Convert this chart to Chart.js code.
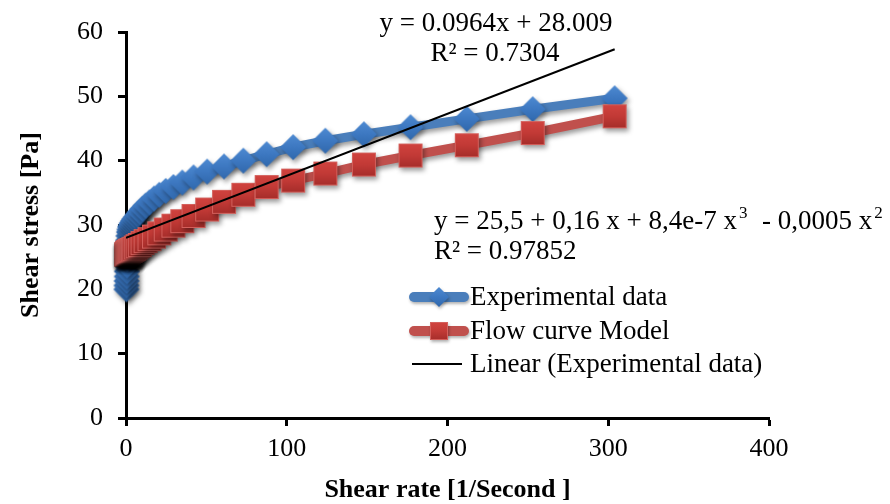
<!DOCTYPE html>
<html>
<head>
<meta charset="utf-8">
<title>Shear stress vs shear rate</title>
<script src="https://cdn.jsdelivr.net/npm/chart.js@4.4.1/dist/chart.umd.min.js"></script>
<style>
  html, body { margin: 0; padding: 0; background: #fff; }
  #wrap { position: relative; width: 890px; height: 504px; }
</style>
</head>
<body>
<div id="wrap"><canvas id="flowChart" width="890" height="504"></canvas></div>
<script>
// shear rate steps [1/s] shared by both series
var shearRate = [0.26, 0.31, 0.37, 0.44, 0.53, 0.63, 0.75, 0.89, 1.06, 1.26,
	1.5, 1.8, 2.1, 2.5, 3.0, 3.6, 4.3, 5.1, 6.1, 7.2,
	8.6, 10.3, 12.2, 14.6, 17.4, 20.7, 24.7, 29.5, 35, 42,
	50.5, 61, 73, 87.5, 104, 124, 148, 177, 212, 253, 304];

// measured shear stress [Pa]
var expStress = [20.0, 20.6, 21.3, 22.0, 22.8, 23.7, 24.7, 25.7, 26.7, 27.6,
	28.3, 28.9, 29.3, 29.7, 30.0, 30.3, 30.6, 30.9, 31.2, 31.6,
	32.0, 32.5, 33.0, 33.5, 34.1, 34.7, 35.3, 35.9, 36.6, 37.4,
	38.3, 39.1, 40.0, 41.0, 42.1, 43.1, 44.1, 45.2, 46.5, 48.0, 49.7];

// flow curve model [Pa]
var modelStress = [25.4, 25.4, 25.45, 25.5, 25.5, 25.55, 25.6, 25.65, 25.7, 25.75,
	25.8, 25.85, 25.9, 26.0, 26.0, 26.1, 26.2, 26.3, 26.5, 26.7,
	26.9, 27.2, 27.5, 27.8, 28.2, 28.7, 29.3, 29.9, 30.6, 31.4,
	32.4, 33.6, 34.7, 35.9, 36.9, 38.0, 39.4, 40.8, 42.4, 44.3, 46.9];

var xTicks = [0, 100, 200, 300, 400];
var yTicks = [0, 10, 20, 30, 40, 50, 60];

// excel linear trendline of the experimental data, over the data range
var trendSlope = 0.0964;
var trendIntercept = 28.009;
var trendRange = [0, 304];
var trendR2 = '0.7304';
var modelR2 = '0.97852';

var seriesNames = ['Experimental data', 'Flow curve Model', 'Linear (Experimental data)'];

var serif = '"Liberation Serif", "Times New Roman", serif';

function toPoints(xs, ys) {
	var pts = [];
	for (var i = 0; i < xs.length; i++) {
		pts.push({x: xs[i], y: ys[i]});
	}
	return pts;
}

// marker bitmaps, gradient filled like the office 2007 style
function makeDiamond(r) {
	var size = Math.ceil(r * 2 + 2);
	var c = document.createElement('canvas');
	c.width = c.height = size;
	var g = c.getContext('2d');
	var m = size / 2;
	var grad = g.createLinearGradient(0, m - r, 0, m + r);
	grad.addColorStop(0, '#4e8ad2');
	grad.addColorStop(0.5, '#3d78c1');
	grad.addColorStop(1, '#3068ac');
	g.beginPath();
	g.moveTo(m, m - r);
	g.lineTo(m + r, m);
	g.lineTo(m, m + r);
	g.lineTo(m - r, m);
	g.closePath();
	g.fillStyle = grad;
	g.fill();
	return c;
}

function makeSquare(half) {
	var size = Math.ceil(half * 2 + 2);
	var c = document.createElement('canvas');
	c.width = c.height = size;
	var g = c.getContext('2d');
	var m = size / 2;
	var grad = g.createLinearGradient(0, m - half, 0, m + half);
	grad.addColorStop(0, '#d1433f');
	grad.addColorStop(0.5, '#c23a36');
	grad.addColorStop(1, '#a52d2a');
	g.fillStyle = grad;
	g.fillRect(m - half, m - half, half * 2, half * 2);
	g.strokeStyle = '#d4605c';
	g.lineWidth = 1;
	g.strokeRect(m - half + 0.5, m - half + 0.5, half * 2 - 1, half * 2 - 1);
	return c;
}

var diamondImg = makeDiamond(13);
var squareImg = makeSquare(12);
var legendDiamond = makeDiamond(10);
var legendSquare = makeSquare(9);

// soft drop shadow under the two data series
var shadowPlugin = {
	id: 'seriesShadow',
	beforeDatasetDraw: function(chart, args) {
		if (!chart.data.datasets[args.index].shadow) return;
		var ctx = chart.ctx;
		ctx.save();
		ctx.shadowColor = 'rgba(0,0,0,0.4)';
		ctx.shadowBlur = 5;
		ctx.shadowOffsetX = 2;
		ctx.shadowOffsetY = 3;
	},
	afterDatasetDraw: function(chart, args) {
		if (chart.data.datasets[args.index].shadow) chart.ctx.restore();
	}
};

// equations and legend
var notesPlugin = {
	id: 'notes',
	afterDraw: function(chart) {
		var ctx = chart.ctx;
		ctx.save();
		ctx.fillStyle = '#000';
		ctx.textBaseline = 'alphabetic';

		ctx.font = '27px ' + serif;
		ctx.textAlign = 'center';
		ctx.fillText('y = ' + trendSlope + 'x + ' + trendIntercept.toFixed(3), 496, 31);
		ctx.fillText('R\u00b2 = ' + trendR2, 495, 61);

		// polynomial fit with superscripts
		ctx.textAlign = 'left';
		var parts = [
			['y = 25,5 + 0,16 x + 8,4e-7 x', false],
			['3', true],
			['  - 0,0005 x', false],
			['2', true]
		];
		var x = 434;
		var base = 229;
		for (var i = 0; i < parts.length; i++) {
			if (parts[i][1]) {
				ctx.font = '17px ' + serif;
				ctx.fillText(parts[i][0], x + 2, base - 11);
				x += ctx.measureText(parts[i][0]).width + 3;
			} else {
				ctx.font = '27px ' + serif;
				ctx.fillText(parts[i][0], x, base);
				x += ctx.measureText(parts[i][0]).width;
			}
		}
		ctx.font = '27px ' + serif;
		ctx.fillText('R\u00b2 = ' + modelR2, 434, 259);

		// legend
		var rows = [297, 331, 364];
		ctx.lineCap = 'round';
		ctx.save();
		ctx.shadowColor = 'rgba(0,0,0,0.3)';
		ctx.shadowBlur = 3;
		ctx.shadowOffsetX = 1;
		ctx.shadowOffsetY = 2;
		ctx.lineWidth = 10;
		ctx.strokeStyle = '#4a7ebb';
		ctx.beginPath();
		ctx.moveTo(414, rows[0]);
		ctx.lineTo(464, rows[0]);
		ctx.stroke();
		ctx.drawImage(legendDiamond, 439 - legendDiamond.width / 2, rows[0] - legendDiamond.height / 2);
		ctx.strokeStyle = '#c0504d';
		ctx.beginPath();
		ctx.moveTo(414, rows[1]);
		ctx.lineTo(464, rows[1]);
		ctx.stroke();
		ctx.drawImage(legendSquare, 439 - legendSquare.width / 2, rows[1] - legendSquare.height / 2);
		ctx.restore();

		ctx.lineCap = 'butt';
		ctx.lineWidth = 2;
		ctx.strokeStyle = '#000';
		ctx.beginPath();
		ctx.moveTo(412, rows[2]);
		ctx.lineTo(462, rows[2]);
		ctx.stroke();

		ctx.font = '27px ' + serif;
		ctx.textBaseline = 'middle';
		for (var j = 0; j < seriesNames.length; j++) {
			ctx.fillText(seriesNames[j], 470, rows[j] + 1);
		}
		ctx.restore();
	}
};

var trendPoints = trendRange.map(function(v) {
	return {x: v, y: trendIntercept + trendSlope * v};
});

var axisGrid = {
	display: true,
	drawOnChartArea: false,
	drawTicks: true,
	tickLength: 8,
	tickWidth: 3,
	tickColor: '#000'
};

var chart = new Chart(document.getElementById('flowChart'), {
	type: 'scatter',
	data: {
		datasets: [
			{
				label: seriesNames[2],
				data: trendPoints,
				showLine: true,
				borderColor: '#000',
				borderWidth: 2,
				pointRadius: 0,
				order: 0
			},
			{
				label: seriesNames[1],
				data: toPoints(shearRate, modelStress),
				showLine: true,
				borderColor: '#c0504d',
				borderWidth: 9,
				pointStyle: squareImg,
				pointRadius: 12,
				clip: false,
				shadow: true,
				order: 1
			},
			{
				label: seriesNames[0],
				data: toPoints(shearRate, expStress),
				showLine: true,
				borderColor: '#4a7ebb',
				borderWidth: 9,
				pointStyle: diamondImg,
				pointRadius: 12,
				clip: false,
				shadow: true,
				order: 2
			}
		]
	},
	options: {
		responsive: false,
		animation: false,
		events: [],
		layout: {
			padding: {top: 32, right: 121, left: 0, bottom: 0}
		},
		plugins: {
			legend: {display: false},
			tooltip: {enabled: false}
		},
		scales: {
			x: {
				type: 'linear',
				min: 0,
				max: 400,
				afterBuildTicks: function(scale) {
					scale.ticks = xTicks.map(function(v) { return {value: v}; });
				},
				afterFit: function(scale) {
					scale.height = 86;
				},
				grid: axisGrid,
				border: {display: true, color: '#000', width: 3},
				ticks: {
					color: '#000',
					padding: 8,
					maxRotation: 0,
					font: {family: serif, size: 26}
				},
				title: {
					display: true,
					text: 'Shear rate [1/Second ]',
					color: '#000',
					padding: {top: 0, bottom: 0},
					font: {family: serif, size: 26, weight: 'bold', lineHeight: 1.05}
				}
			},
			y: {
				type: 'linear',
				min: 0,
				max: 60,
				afterBuildTicks: function(scale) {
					scale.ticks = yTicks.map(function(v) { return {value: v}; });
				},
				afterFit: function(scale) {
					scale.width = 126;
				},
				grid: axisGrid,
				border: {display: true, color: '#000', width: 3},
				ticks: {
					color: '#000',
					padding: 15,
					font: {family: serif, size: 26}
				},
				title: {
					display: true,
					text: 'Shear stress [Pa]',
					color: '#000',
					padding: {top: 16, bottom: 0},
					font: {family: serif, size: 26, weight: 'bold'}
				}
			}
		}
	},
	plugins: [shadowPlugin, notesPlugin]
});
</script>
</body>
</html>
